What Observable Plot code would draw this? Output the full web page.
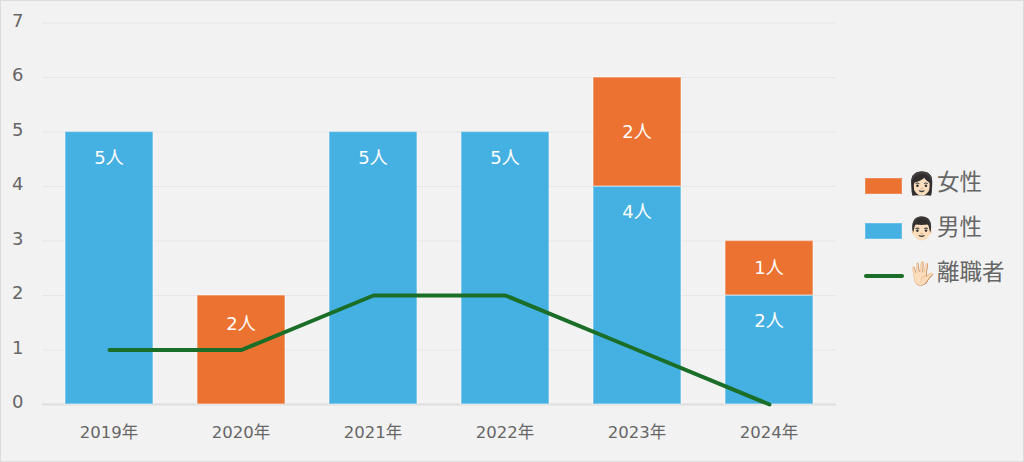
<!DOCTYPE html>
<html><head><meta charset="utf-8">
<script src="https://cdn.jsdelivr.net/npm/d3@7"></script>
<script src="https://cdn.jsdelivr.net/npm/@observablehq/plot@0.6"></script>
<style>
html,body{margin:0;padding:0;background:#f2f2f2}
#wrap{position:relative;width:1024px;height:462px;overflow:hidden;font-family:"DejaVu Sans","Noto Sans CJK JP",sans-serif}
#frame{position:absolute;inset:0;border:1.5px solid #dcdcdc;box-sizing:border-box;pointer-events:none}
.lg{position:absolute;left:864px;height:30px;display:flex;align-items:center;color:#666;font-size:22.5px;white-space:nowrap}
.sw{position:absolute;left:1px;width:37px;height:16px;top:7px;box-sizing:border-box;border:1px solid #ffffff30}
.ln{position:absolute;left:0;width:40px;height:4px;top:13px;border-radius:2px;background:#1a6e27}
.em{position:absolute;left:44px;top:-1px;font-size:22px;line-height:28px}
.tx{position:absolute;left:73px;top:-4px;line-height:30px}
svg text{font-family:"DejaVu Sans","Noto Sans CJK JP",sans-serif}
</style></head><body>
<div id="wrap"><div id="frame"></div></div>
<script>
const years = ["2019年","2020年","2021年","2022年","2023年","2024年"];
const male = [5,0,5,5,4,2];
const female = [0,2,0,0,2,1];
const leavers = [1,1,2,2,1,0];
const legendItems = [["女性","👩🏻"],["男性","👨🏻"],["離職者","🖐🏻"]];

const blue="#45b0e2", orange="#eb7231", green="#1a6e27", grey="#666";
const rows = years.flatMap((y,i)=>[
  {year:y,sex:"男性",n:male[i],base:0},
  {year:y,sex:"女性",n:female[i],base:male[i]}
]).filter(d=>d.n>0);
const lineRows = years.map((y,i)=>({year:y,n:leavers[i]}));
const maleLabels = rows.filter(d=>d.sex==="男性");
const femaleLabels = rows.filter(d=>d.sex==="女性");
const label = d=>d.n+"人";
const isSingle = d=>d.base===0;

const chart = Plot.plot({
  width:1024,height:462,
  marginTop:22.5,marginBottom:58,marginLeft:42,marginRight:188,
  style:{background:"transparent",overflow:"visible"},
  x:{domain:years,paddingInner:.335,paddingOuter:.1675,label:null},
  y:{domain:[0,7],label:null},
  marks:[
    Plot.gridY([1,2,3,4,5,6,7],{stroke:"#e6e6e6",strokeOpacity:1,strokeWidth:1.2}),
    Plot.ruleY([0],{stroke:"#dddddd",strokeWidth:2}),
    Plot.barY(rows,{x:"year",y1:"base",y2:d=>d.base+d.n,fill:d=>d.sex==="男性"?blue:orange,stroke:"#ffffff",strokeOpacity:.4,strokeWidth:1.5}),
    Plot.line(lineRows,{x:"year",y:"n",stroke:green,strokeWidth:4,strokeLinecap:"round",strokeLinejoin:"round"}),
    Plot.text(maleLabels,{x:"year",y:d=>d.base+d.n,text:label,dy:26,dx:-0.5,fill:"white",fontSize:18}),
    Plot.text(femaleLabels.filter(d=>!isSingle(d)),{x:"year",y:d=>d.base+d.n/2,text:label,dx:-0.5,fill:"white",fontSize:18}),
    Plot.text(femaleLabels.filter(isSingle),{x:"year",y:d=>d.base+d.n,dy:29,dx:-0.5,text:label,fill:"white",fontSize:18}),
    Plot.axisX({tickSize:0,tickPadding:22,fontSize:16.5,dx:-0.5,fill:grey,label:null}),
    Plot.axisY({ticks:[0,1,2,3,4,5,6,7],tickFormat:"d",tickSize:0,tickPadding:0,dx:-19,dy:-2,fontSize:18,fill:grey,label:null})
  ]
});
const wrap=document.getElementById("wrap");
wrap.prepend(chart);
legendItems.forEach(([t,e],i)=>{
  const r=document.createElement("div");
  r.className="lg";r.style.top=(171+i*45)+"px";
  const k=i<2?`<span class="sw" style="background:${i==0?orange:blue}"></span>`:`<span class="ln"></span>`;
  r.innerHTML=k+`<span class="em">${e}</span><span class="tx">${t}</span>`;
  wrap.appendChild(r);
});
</script></body></html>
